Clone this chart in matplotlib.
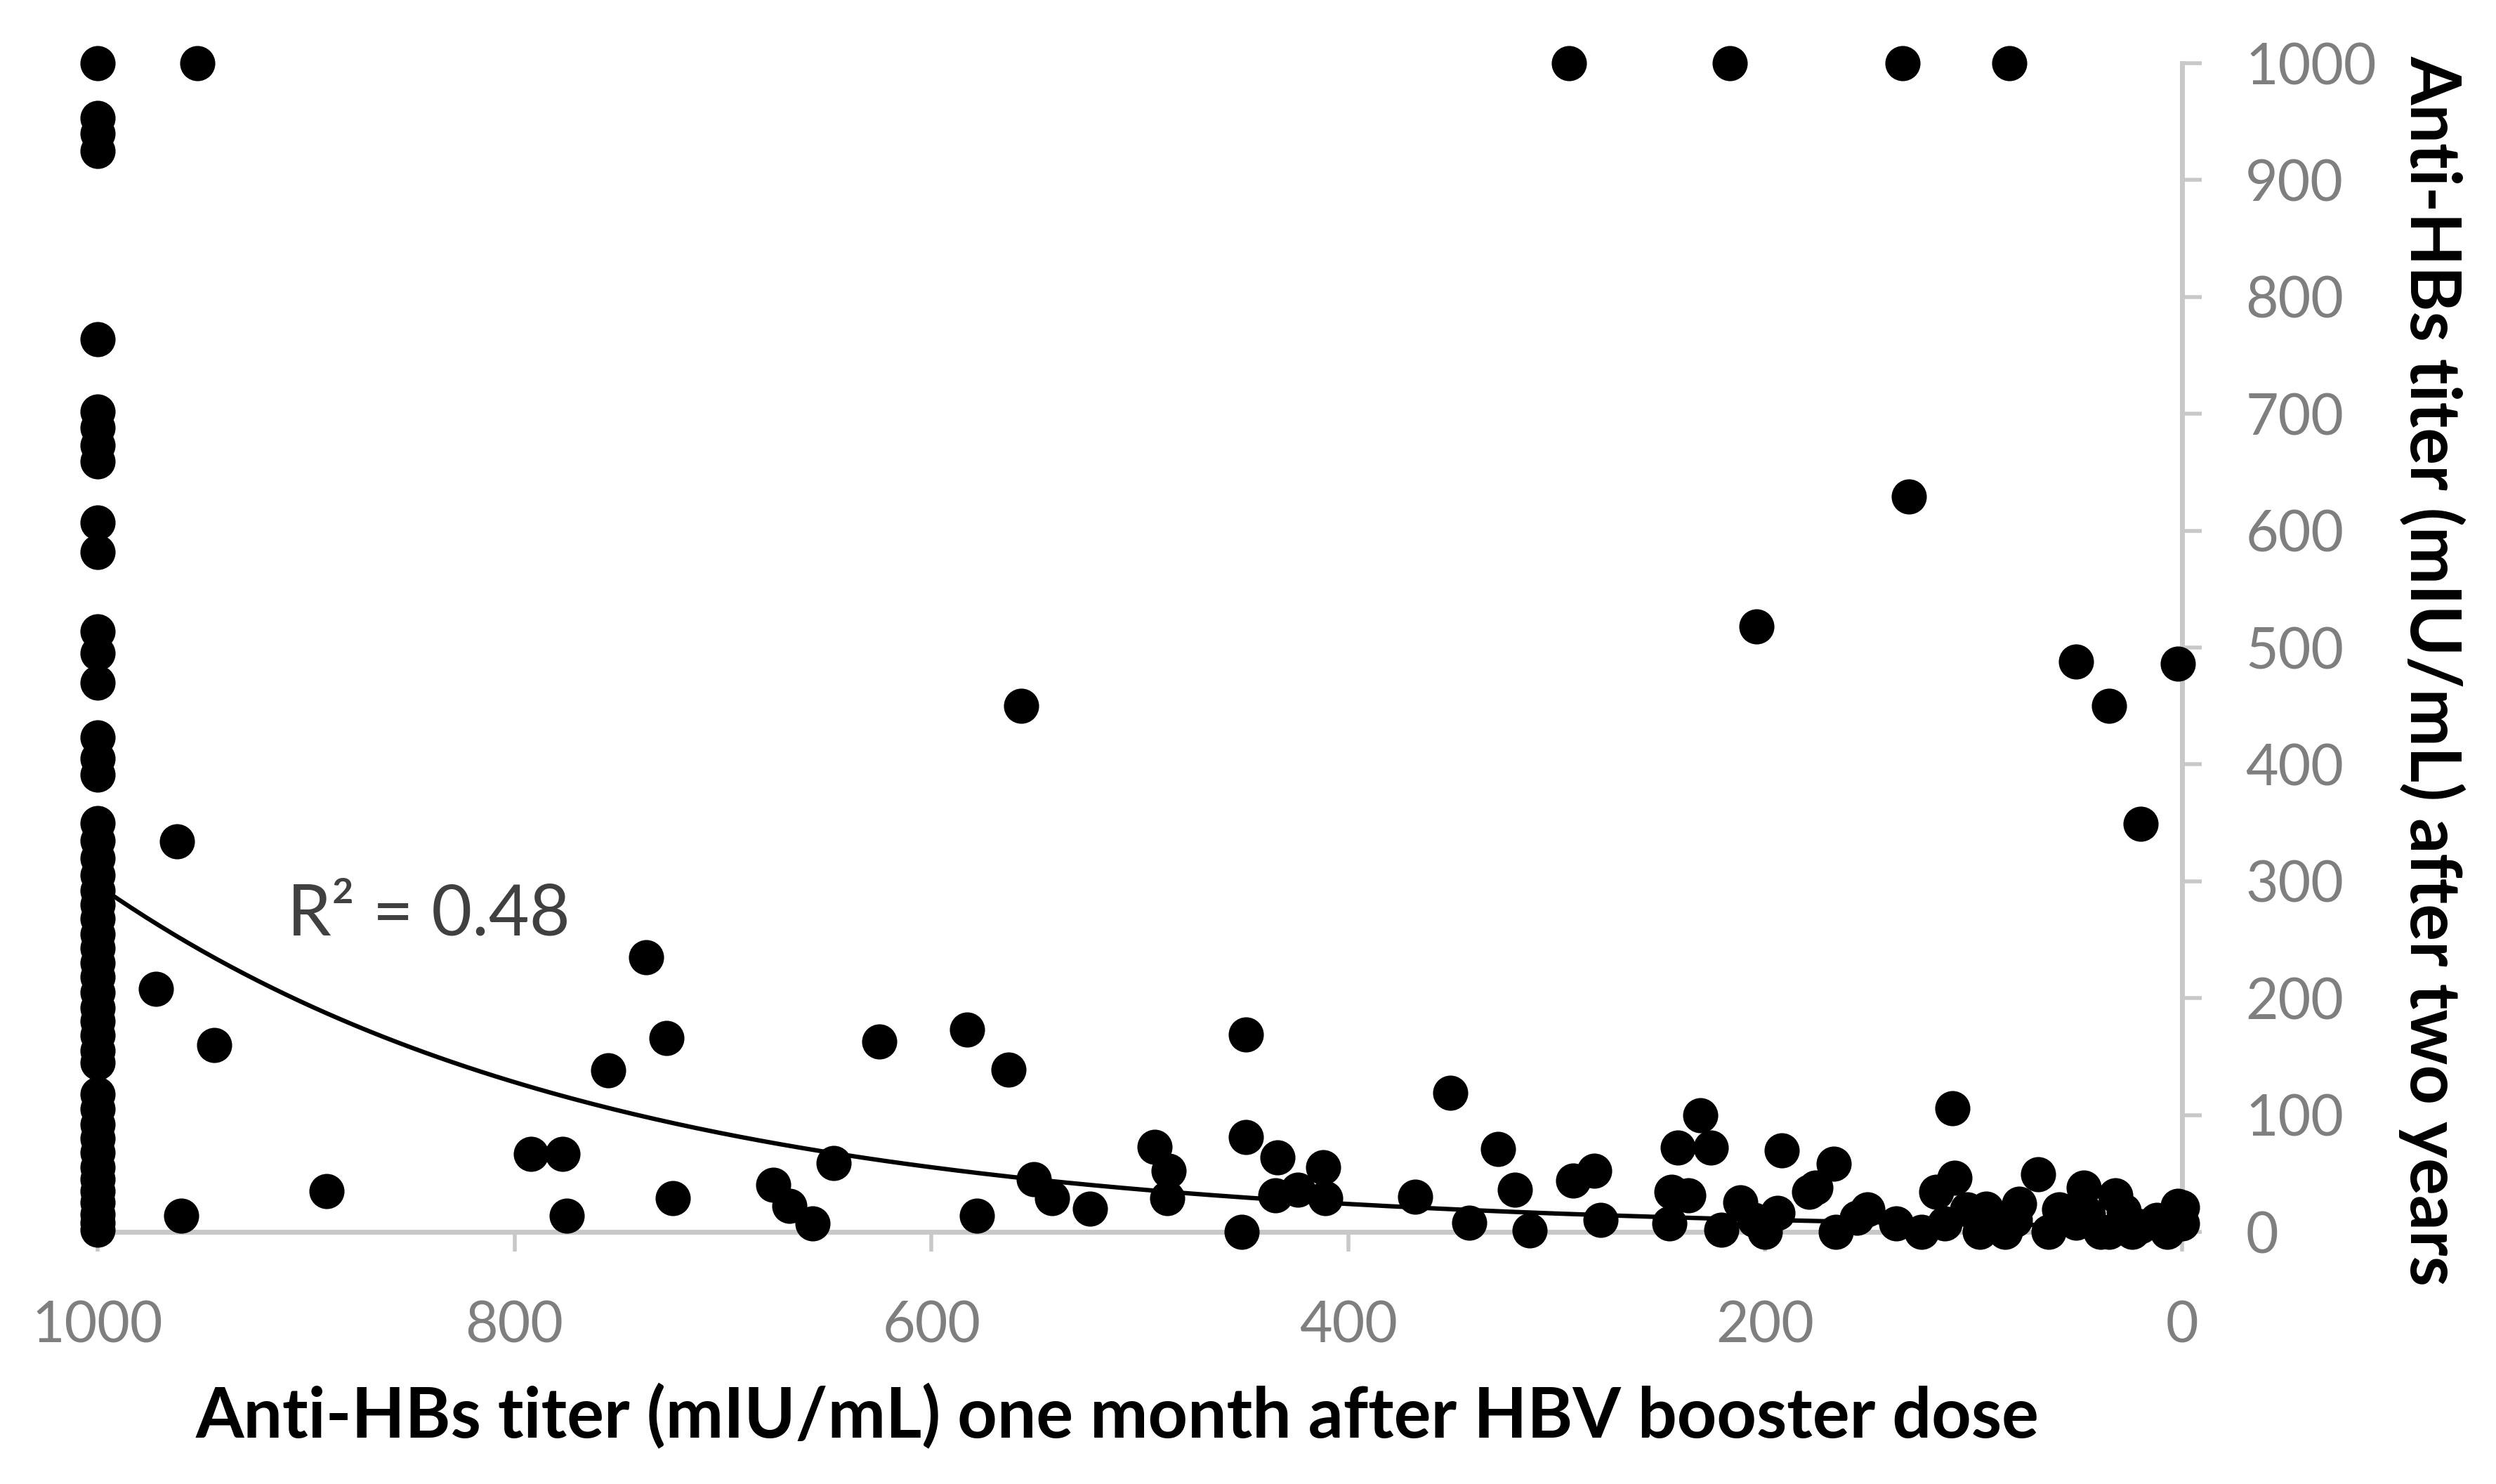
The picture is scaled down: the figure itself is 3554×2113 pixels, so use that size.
import numpy as np
import matplotlib
matplotlib.use("Agg")
import matplotlib.pyplot as plt

plt.rcParams['font.family'] = ['Lato', 'DejaVu Sans']

# points stacked at x = 1000 (titer one month after booster capped at 1000)
column_y = [1000, 953, 940, 925, 764, 702, 688, 673, 659, 607, 582,
            514, 495, 470, 423, 405, 391,
            350, 335, 320, 305, 292, 280, 268, 255, 243, 230, 218, 205,
            192, 180, 168, 155, 145,
            118, 105, 92, 80, 68, 55, 45, 35, 25, 15, 8, 2]

# remaining points (one month titer, two year titer)
point_x = [952, 294, 217, 134, 83,
           962, 972, 944, 960, 890, 792, 777, 775, 755, 737, 727, 724,
           676, 668, 657, 647,
           625, 583, 563, 557, 578, 551, 542, 524, 493, 486, 487, 451,
           449, 449, 434, 435, 424, 412, 411, 368, 351, 342, 328, 320, 313,
           292, 282, 279, 246, 245, 242, 237, 231, 226, 221, 212, 205, 200,
           204, 194, 192, 179, 176, 167, 166, 156,
           151, 137, 131, 125, 118, 114, 110, 109, 103, 97, 94, 85, 78,
           69, 64, 59, 51, 47, 39, 35, 32, 24, 20, 12, 7, 2, 0, 0,
           80, 45, 28, 5,
           51, 35, 20, 2]
point_y = [1000, 1000, 1000, 1000, 1000,
           334, 208, 160, 14, 35, 67, 67, 14, 138, 235, 166, 29,
           40, 22, 7, 59,
           163, 173, 139, 450, 14, 45, 29, 20, 73, 52, 29, 0,
           81, 169, 64, 31, 36, 55, 29, 30, 119, 8, 71, 36, 1,
           44, 52, 10, 7, 34, 72, 31, 100, 72, 2, 25, 10, 0,
           518, 16, 70, 34, 38, 58, 0, 12,
           19, 7, 629, 0, 34, 7, 106, 46, 19, 0, 20, 0, 24,
           49, 0, 19, 8, 38, 0, 0, 31, 0, 5, 10, 0, 22, 7, 21,
           10, 15, 18, 12,
           488, 450, 349, 486]

# exponential trendline y = a * exp(b * x)
trend_a = 4.45
trend_b = 0.0042
r2_label = "R² = 0.48"

x_ticks = [0, 200, 400, 600, 800, 1000]
y_ticks = [0, 100, 200, 300, 400, 500, 600, 700, 800, 900, 1000]

fig = plt.figure(figsize=(35.54, 21.13), dpi=100)
ax = fig.add_axes([0.0391, 0.1699, 0.8351, 0.7875])

all_x = [1000] * len(column_y) + point_x
all_y = column_y + point_y
ax.scatter(all_x, all_y, s=1300, c='black', linewidths=0, clip_on=False, zorder=3)

xs = np.linspace(0, 1000, 300)
ax.plot(xs, trend_a * np.exp(trend_b * xs), color='black', lw=4.5, zorder=4)

ax.text(909, 271, r2_label, fontsize=72, color='#404040', ha='left', va='center')

ax.set_xlim(1000, 0)
ax.set_ylim(0, 1000)
ax.set_xticks(x_ticks)
ax.set_yticks(y_ticks)

for side in ['left', 'top']:
    ax.spines[side].set_visible(False)
for side in ['bottom', 'right']:
    ax.spines[side].set_color('#c8c8c8')
    ax.spines[side].set_linewidth(5)

ax.yaxis.tick_right()
ax.tick_params(axis='both', direction='out', length=20, width=4, color='#c8c8c8',
               labelsize=58, labelcolor='#7f7f7f')
ax.tick_params(axis='x', pad=50)
ax.tick_params(axis='y', pad=45)

fig.text(0.4478, 0.0454, "Anti-HBs titer (mIU/mL) one month after HBV booster dose",
         fontsize=71, fontweight='bold', ha='center', va='center')
fig.text(0.9744, 0.548, "Anti-HBs titer (mIU/mL) after two years",
         fontsize=71, fontweight='bold', ha='center', va='center', rotation=-90)

fig.savefig("out.png", dpi=100)
